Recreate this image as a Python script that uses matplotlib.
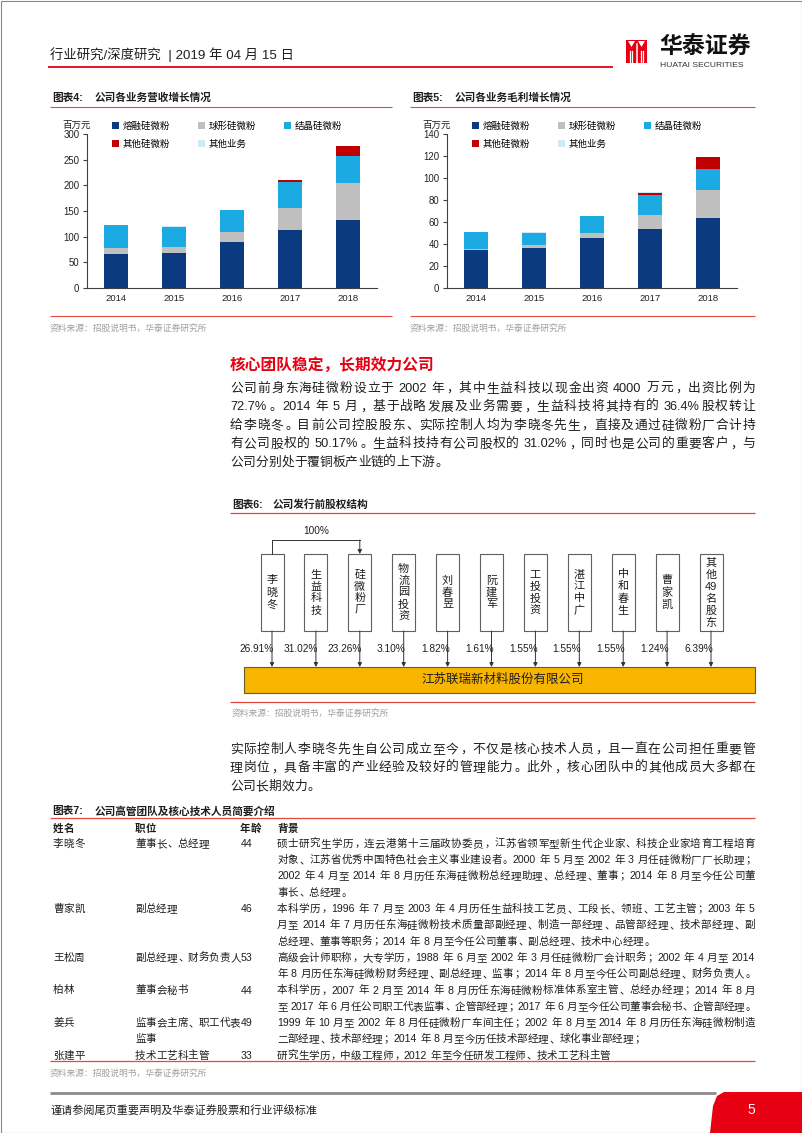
import re
import matplotlib
matplotlib.use('Agg')
import matplotlib.pyplot as plt
from matplotlib.patches import Rectangle, Polygon
import numpy as np

plt.rcParams['font.family'] = ['Liberation Sans', 'Noto Sans CJK SC']

W, H = 802, 1133
RULE = '#E8483C'
RED = '#E60012'
INK = '#1E1E1E'
SRC = '#A0A0A0'

# chart 4 / 5 data (百万元)
years = ['2014', '2015', '2016', '2017', '2018']
series = ['熔融硅微粉', '球形硅微粉', '结晶硅微粉', '其他硅微粉', '其他业务']
rev_fused = [66, 68, 89, 113, 133]
rev_sphere = [11, 12, 20, 43, 71]
rev_cryst = [45, 39, 42, 50, 54]
rev_other_si = [0, 0, 0, 3.5, 19]
rev_other = [1.5, 1.2, 1.5, 0.8, 0.4]
gp_fused = [34.3, 36.4, 45.6, 54.0, 63.2]
gp_sphere = [1.2, 2.5, 4.5, 12.8, 26.1]
gp_cryst = [15.5, 11.5, 15.2, 17.3, 18.8]
gp_other_si = [0, 0, 0, 2.5, 10.6]
gp_other = [0.3, 0.3, 0.3, 0.3, 0.2]

# chart 6 data
holders = ['李晓冬', '生益科技', '硅微粉厂', '物流园投资', '刘春昱', '阮建军',
           '工投投资', '湛江中广', '中和春生', '曹家凯', '其他49名股东']
holder_pct = [26.91, 31.02, 23.26, 3.10, 1.82, 1.61, 1.55, 1.55, 1.55, 1.24, 6.39]
parent_pct = 100
company = '江苏联瑞新材料股份有限公司'

# chart 7 data
names = ['李晓冬', '曹家凯', '王松周', '柏林', '姜兵', '张建平']
posts = [['董事长、总经理'], ['副总经理'], ['副总经理、财务负责人'], ['董事会秘书'],
         ['监事会主席、职工代表', '监事'], ['技术工艺科主管']]
ages = [44, 46, 53, 44, 49, 33]
bios = [
    ['硕士研究生学历，连云港第十三届政协委员，江苏省领军型新生代企业家、科技企业家培育工程培育',
     '对象、江苏省优秀中国特色社会主义事业建设者。2000 年 5 月至 2002 年 3 月任硅微粉厂厂长助理；',
     '2002 年 4 月至 2014 年 8 月历任东海硅微粉总经理助理、总经理、董事；2014 年 8 月至今任公司董',
     '事长、总经理。'],
    ['本科学历，1996 年 7 月至 2003 年 4 月历任生益科技工艺员、工段长、领班、工艺主管；2003 年 5',
     '月至 2014 年 7 月历任东海硅微粉技术质量部副经理、制造一部经理、品管部经理、技术部经理、副',
     '总经理、董事等职务；2014 年 8 月至今任公司董事、副总经理、技术中心经理。'],
    ['高级会计师职称，大专学历，1988 年 6 月至 2002 年 3 月任硅微粉厂会计职务；2002 年 4 月至 2014',
     '年 8 月历任东海硅微粉财务经理、副总经理、监事；2014 年 8 月至今任公司副总经理、财务负责人。'],
    ['本科学历，2007 年 2 月至 2014 年 8 月历任东海硅微粉标准体系室主管、总经办经理；2014 年 8 月',
     '至 2017 年 6 月任公司职工代表监事、企管部经理；2017 年 6 月至今任公司董事会秘书、企管部经理。'],
    ['1999 年 10 月至 2002 年 8 月任硅微粉厂车间主任；2002 年 8 月至 2014 年 8 月历任东海硅微粉制造',
     '二部经理、技术部经理；2014 年 8 月至今历任技术部经理、球化事业部经理；'],
    ['研究生学历，中级工程师，2012 年至今任研发工程师、技术工艺科主管'],
]

para1 = ['公司前身东海硅微粉设立于 2002 年，其中生益科技以现金出资 4000 万元，出资比例为',
         '72.7%。2014 年 5 月，基于战略发展及业务需要，生益科技将其持有的 36.4%股权转让',
         '给李晓冬。目前公司控股股东、实际控制人均为李晓冬先生，直接及通过硅微粉厂合计持',
         '有公司股权的 50.17%。生益科技持有公司股权的 31.02%，同时也是公司的重要客户，与',
         '公司分别处于覆铜板产业链的上下游。']
para2 = ['实际控制人李晓冬先生自公司成立至今，不仅是核心技术人员，且一直在公司担任重要管',
         '理岗位，具备丰富的产业经验及较好的管理能力。此外，核心团队中的其他成员大多都在',
         '公司长期效力。']
source = '资料来源：招股说明书，华泰证券研究所'

fig = plt.figure(figsize=(W / 100, H / 100), dpi=100)
page = fig.add_axes([0, 0, 1, 1])
page.set_xlim(0, W)
page.set_ylim(H, 0)
page.axis('off')
rend = fig.canvas.get_renderer()


def is_cjk(ch):
    return ord(ch) >= 0x2E80


def put_line(x0, x1, y, s, size, justify=None, **kw):
    # lay a line out token by token, spread to the column width like the pdf
    em = size * 100 / 72
    items = []
    space = 0
    for t in re.findall(r' |[!-~]+|.', s):
        if t == ' ':
            space += 1
            continue
        if is_cjk(t[0]):
            w = em
        else:
            a = page.text(0, 0, t, fontsize=size, **kw)
            w = a.get_window_extent(rend).width + 0.06 * em
            a.remove()
        items.append((t, w, space))
        space = 0
    sw = 0.28 * em
    natural = sum(w + n * sw for _, w, n in items)
    if justify is None:
        justify = natural > 0.85 * (x1 - x0)
    gap = (x1 - x0 - natural) / (len(items) - 1) if justify and len(items) > 1 else 0
    x = x0
    base = y + 0.36 * em
    for t, w, n in items:
        x += n * sw
        if t in '，。、；：':
            page.text(x + 0.1 * em, base, t, fontsize=size, va='baseline', ha='left', **kw)
        elif is_cjk(t[0]):
            page.text(x + w / 2, base, t, fontsize=size, va='baseline', ha='center', **kw)
        else:
            page.text(x + 0.03 * em, base, t, fontsize=size, va='baseline', ha='left', **kw)
        x += w + gap


def rule(x0, x1, y, color=RULE, lw=0.9):
    page.plot([x0, x1], [y, y], color=color, lw=lw, solid_capstyle='butt')


# page frame, header, logo
page.add_patch(Rectangle((0.5, 0.5), W - 1, H - 1, fill=False, ec='#8a8a8a', lw=0.8))
page.text(50, 55, '行业研究/深度研究  | 2019 年 04 月 15 日', fontsize=9.6, color=INK, va='center')
rule(48, 613, 67, color=RED, lw=1.3)
page.add_patch(Rectangle((626, 40), 21, 23, color=RED, lw=0))
page.add_patch(Polygon([(628, 41), (631.5, 47), (635, 41)], color='white', lw=0))
page.add_patch(Polygon([(638, 41), (641.5, 47), (645, 41)], color='white', lw=0))
for xx in (629.5, 632, 640.5, 643):
    page.plot([xx, xx], [51, 62], color='white', lw=0.9)
page.plot([636.5, 636.5], [44, 63], color='white', lw=1.1)
page.text(659, 47, '华泰证券', fontsize=16.5, fontweight='bold', color='#111', va='center')
page.text(660, 65.5, 'HUATAI SECURITIES', fontsize=6.1, color='#333', va='center')

# chart 4 and chart 5
colors = ['#0B3A80', '#BFBFBF', '#1BAAE2', '#C00000', '#CFEAF6']


def stacked(left, parts, ymax, step, title_no, title, unit_x):
    ax = fig.add_axes([left / W, 1 - 288 / H, 290 / W, 154 / H])
    x = np.arange(len(years))
    bottom = np.zeros(len(years))
    bars = []
    for vals, name, col in zip(parts, series, colors):
        bars.append(ax.bar(x, vals, 0.4, bottom=bottom, color=col, label=name))
        bottom += np.array(vals)
    ax.set_xlim(-0.5, len(years) - 0.5)
    ax.set_ylim(0, ymax)
    ax.set_yticks(np.arange(0, ymax + 1, step))
    ax.set_xticks(x)
    ax.set_xticklabels(years)
    for s in ['top', 'right']:
        ax.spines[s].set_visible(False)
    for s in ['left', 'bottom']:
        ax.spines[s].set_color('#404040')
        ax.spines[s].set_linewidth(0.8)
    ax.tick_params(axis='y', length=3, width=0.8, color='#404040', pad=2.5,
                   labelsize=6.9, labelcolor='#222')
    ax.tick_params(axis='x', length=0, pad=4, labelsize=6.8, labelcolor='#222')
    order = [0, 3, 1, 4, 2]
    ax.legend([bars[i] for i in order], [series[i] for i in order], ncol=3,
              loc='upper left', bbox_to_anchor=((left + 25) / W, 1 - 121.5 / H),
              bbox_transform=fig.transFigure, frameon=False, fontsize=6.8,
              handlelength=0.7, handleheight=0.7, handletextpad=0.4,
              columnspacing=3.0, labelspacing=0.9, borderpad=0, borderaxespad=0)
    page.text(unit_x, 125, '百万元', fontsize=6.8, color='#222', ha='center', va='center')
    page.text(left - 35, 98, title_no, fontsize=7.7, fontweight='bold', color=INK, va='center')
    page.text(left + 8, 98, title, fontsize=7.7, fontweight='bold', color=INK, va='center')
    return ax


stacked(87, [rev_fused, rev_sphere, rev_cryst, rev_other_si, rev_other], 300, 50,
        '图表4:', '公司各业务营收增长情况', 77)
stacked(447, [gp_fused, gp_sphere, gp_cryst, gp_other_si, gp_other], 140, 20,
        '图表5:', '公司各业务毛利增长情况', 437)
for x0, x1 in [(50, 392), (410, 755)]:
    rule(x0, x1, 107, lw=0.8)
    rule(x0, x1, 316, lw=0.8)
    page.text(x0, 328, source, fontsize=6.3, color=SRC, va='center')

# section text
page.text(230, 365, '核心团队稳定，长期效力公司', fontsize=11.3, fontweight='bold', color=RED, va='center')
for i, line in enumerate(para1):
    put_line(230, 755, 387 + i * 18.6, line, 9.2, color=INK)

# chart 6: shareholder structure
page.text(232, 505, '图表6:', fontsize=7.7, fontweight='bold', color=INK, va='center')
page.text(273, 505, '公司发行前股权结构', fontsize=7.7, fontweight='bold', color=INK, va='center')
rule(230, 755, 513)
box_top, box_bot, bar_top, bar_bot = 554, 631, 667, 693
step = (711 - 272) / (len(holders) - 1)
cxs = [272 + i * step for i in range(len(holders))]
arrow = dict(arrowstyle='-|>', color='#333', lw=0.7, mutation_scale=6, shrinkA=0, shrinkB=0)
for cx, name, pct in zip(cxs, holders, holder_pct):
    page.add_patch(Rectangle((cx - 11.5, box_top), 23, box_bot - box_top, fc='white', ec='#606060', lw=0.8))
    chars = re.findall(r'\d+|.', name)
    y0 = (box_top + box_bot) / 2 - (len(chars) - 1) / 2 * 12
    for k, ch in enumerate(chars):
        page.text(cx, y0 + k * 12, ch, fontsize=8, color=INK, ha='center', va='center')
    page.annotate('', xy=(cx, bar_top), xytext=(cx, box_bot), arrowprops=arrow)
    page.text(cx + 2, 649, f'{pct:.2f}%', fontsize=7.3, color=INK, ha='right', va='center')
page.plot([cxs[0], cxs[0], cxs[2]], [box_top, 540, 540], color='#333', lw=0.7)
page.annotate('', xy=(cxs[2], box_top), xytext=(cxs[2], 540), arrowprops=arrow)
page.text((cxs[0] + cxs[2]) / 2, 531, f'{parent_pct}%', fontsize=7.3, color=INK, ha='center', va='center')
page.add_patch(Rectangle((244, bar_top), 755 - 244, bar_bot - bar_top, fc='#F7B500', ec='#6b5a2a', lw=0.8))
page.text(503, (bar_top + bar_bot) / 2, company, fontsize=9, color=INK, ha='center', va='center')
rule(230, 755, 702)
page.text(232, 713, source, fontsize=6.3, color=SRC, va='center')

for i, line in enumerate(para2):
    put_line(230, 755, 748 + i * 18.6, line, 9.2, color=INK)

# chart 7: management table
page.text(52, 811, '图表7:', fontsize=7.7, fontweight='bold', color=INK, va='center')
page.text(95, 811, '公司高管团队及核心技术人员简要介绍', fontsize=7.7, fontweight='bold', color=INK, va='center')
rule(50, 755, 818)
col_x = [53, 135, 240, 277]
for cx, head in zip(col_x, ['姓名', '职位', '年龄', '背景']):
    put_line(cx, 755, 828, head, 7.6, justify=False, fontweight='bold', color=INK)
row_h = 16.3
k = 0
for name, post, age, bio in zip(names, posts, ages, bios):
    y = 843 + k * row_h
    put_line(col_x[0], 755, y, name, 7.6, justify=False, color=INK)
    for j, p in enumerate(post):
        put_line(col_x[1], 755, y + j * row_h, p, 7.6, justify=False, color=INK)
    put_line(col_x[2], 755, y, str(age), 7.6, justify=False, color=INK)
    for j, line in enumerate(bio):
        put_line(col_x[3], 755, y + j * row_h, line, 7.6, color=INK)
    k += max(len(bio), len(post))
rule(50, 755, 1061)
page.text(50, 1073, source, fontsize=6.3, color=SRC, va='center')

# footer
rule(50, 716, 1093, color='#8C8C8C', lw=2)
page.text(50, 1111, '谨请参阅尾页重要声明及华泰证券股票和行业评级标准', fontsize=8, color=INK, va='center')
page.add_patch(Polygon([(W, 1092), (724, 1092), (717, 1096), (713, 1106), (710, H), (W, H)],
                       color=RED, lw=0))
page.text(751, 1110, '5', fontsize=10, color='white', ha='center', va='center')

fig.savefig('out.png', dpi=100)
